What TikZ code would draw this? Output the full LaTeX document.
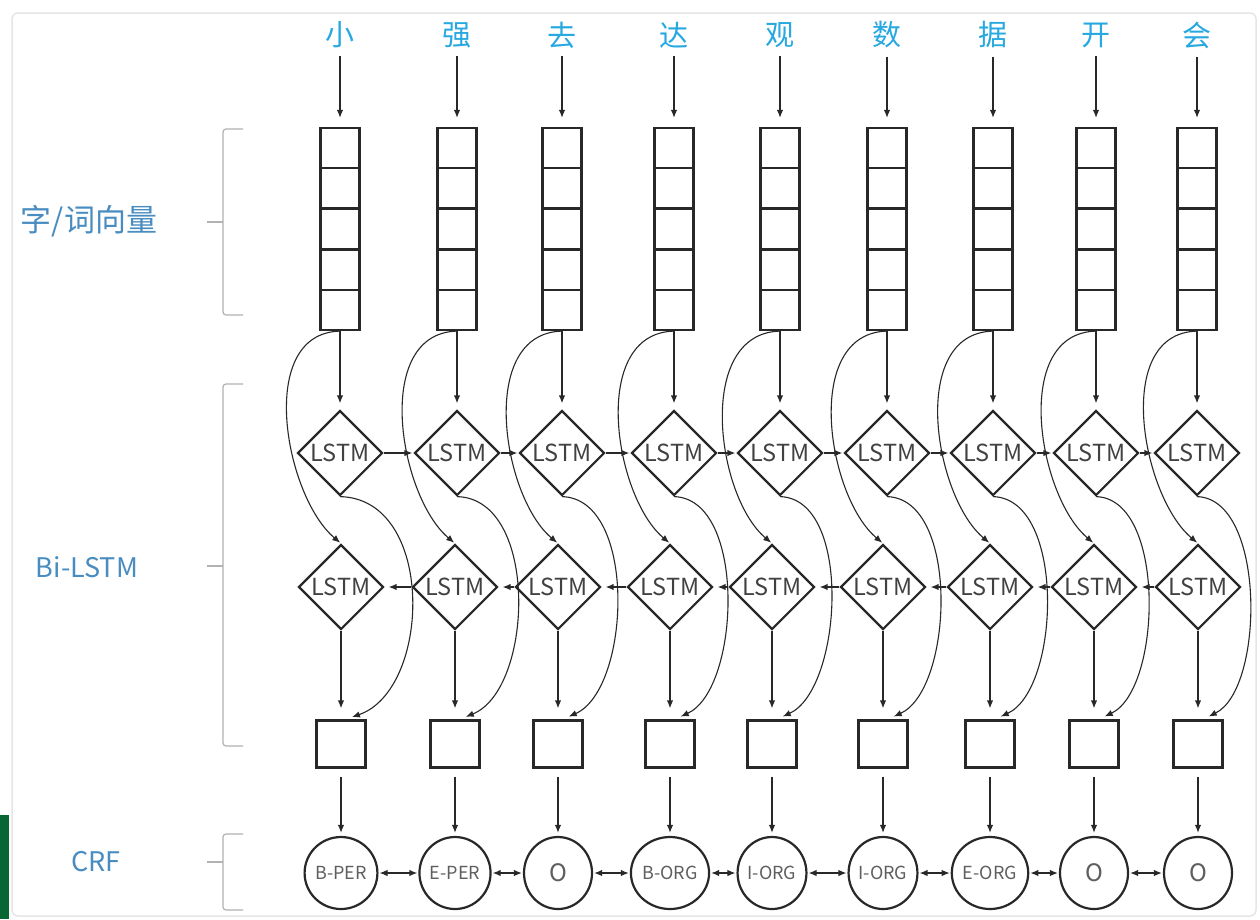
\documentclass[tikz,border=0pt]{standalone}
\usepackage{fontspec}
\setmainfont{Noto Sans CJK SC}
\usetikzlibrary{arrows.meta,shapes.geometric,calc}
\definecolor{topblue}{RGB}{38,168,224}
\definecolor{lblblue}{RGB}{72,140,192}
\definecolor{ink}{RGB}{40,40,40}
\definecolor{txtgray}{RGB}{65,65,65}
\definecolor{tagtxt}{RGB}{95,95,95}
\definecolor{brk}{RGB}{178,178,178}
\definecolor{framecol}{RGB}{230,230,230}
\definecolor{bargreen}{RGB}{6,102,52}
\tikzset{
  conn/.style={draw=ink, line width=1.3pt, ->},
  curvy/.style={draw=ink, line width=1.1pt, ->},
  vecbox/.style={rectangle, draw=ink, line width=2.2pt, minimum width=39pt, minimum height=202pt, inner sep=0pt},
  lstm/.style={diamond, draw=ink, line width=2.2pt, minimum width=85pt, minimum height=85pt, inner sep=0pt, text=txtgray, font=\fontsize{23.5}{23.5}\selectfont},
  outbox/.style={rectangle, draw=ink, line width=2.2pt, minimum width=49pt, minimum height=47pt, inner sep=0pt},
  tag/.style={ellipse, draw=ink, line width=2.2pt, minimum width=68pt, minimum height=72pt, inner sep=0pt, text=tagtxt},
  word/.style={text=topblue, inner sep=0pt, font=\fontsize{29}{29}\selectfont},
  layer/.style={text=lblblue, inner sep=0pt, font=\fontsize{27}{27}\selectfont},
  brace/.style={draw=brk, line width=1.2pt, rounded corners=3pt},
}
\begin{document}
\begin{tikzpicture}[x=1pt,y=-1pt,>={Latex[length=8pt,width=6.5pt]}]
\useasboundingbox (0,0) rectangle (1260,919);
\fill[white] (0,0) rectangle (1260,919);
\draw[framecol, line width=1.5pt, rounded corners=6pt] (12,13) rectangle (1256,916);
\fill[bargreen] (0,815) rectangle (9,919);

% layer labels and braces
\node[layer, font=\fontsize{31}{31}\selectfont] (lab1) at (89,221) {字/词向量};
\node[layer] (lab2) at (87,567) {Bi-LSTM};
\node[layer] (lab3) at (96,862) {CRF};
\draw[brace] (243,129) -- (223,129) -- (223,315) -- (243,315);
\draw[brace] (223,222) -- (207,222);
\draw[brace] (243,384) -- (223,384) -- (223,746) -- (243,746);
\draw[brace] (223,566) -- (207,566);
\draw[brace] (243,834) -- (223,834) -- (223,910) -- (243,910);
\draw[brace] (223,862) -- (207,862);

% columns: top x (words, vectors, forward LSTM) and bottom x (backward LSTM, outputs, tags)
\foreach \i/\x/\y/\ch/\tg/\fs in {1/340/341/小/B-PER/18, 2/457/455/强/E-PER/18, 3/562/558/去/O/24, 4/674/670/达/B-ORG/18, 5/780/772/观/I-ORG/18, 6/887/883/数/I-ORG/18, 7/993/990/据/E-ORG/18, 8/1096/1094/开/O/24, 9/1197/1198/会/O/24}{
  \node[word] (w\i) at (\x,35) {\ch};
  \node[vecbox] (v\i) at (\x,229) {};
  \foreach \k in {1,...,4}{
    \draw[ink, line width=2.2pt] ($(v\i.north west)!\k/5!(v\i.south west)$) -- ($(v\i.north east)!\k/5!(v\i.south east)$);
  }
  \node[lstm] (f\i) at (\x,453) {LSTM};
  \node[lstm] (b\i) at (\y,587) {LSTM};
  \node[outbox] (o\i) at (\y,744) {};
  \node[tag, font=\fontsize{\fs}{\fs}\selectfont] (c\i) at (\y,873) {\tg};
  \draw[conn, shorten <=8pt, shorten >=9pt] (w\i) -- (v\i);
  \draw[conn, shorten >=6pt] (v\i) -- (f\i);
  \draw[conn, shorten >=11pt] (b\i) -- (o\i);
  \draw[conn, shorten <=8pt, shorten >=3pt] (o\i) -- (c\i);
}

% curves
\foreach \i/\r in {1/72, 2/62, 3/57, 4/55, 5/55, 6/55, 7/55, 8/53, 9/52}{
  \draw[curvy, shorten >=1pt] (v\i.south) .. controls ($(v\i.south)+(-85,2)$) and ($(b\i.north)+(-56,-47)$) .. (b\i.north);
  \draw[curvy, shorten >=7pt] (f\i.south) .. controls ($(f\i.south)+(1.33*\r,2)$) and ($(o\i.80)+(1.2*\r,-30)$) .. (o\i.80);
}

% horizontal connections
\foreach \i/\j in {1/2,2/3,3/4,4/5,5/6,6/7,7/8,8/9}{
  \draw[conn, shorten >=1pt] (f\i.east) -- (f\j.west);
  \draw[conn, shorten >=4pt] (b\j.west) -- (b\i.east);
  \draw[conn, <->, shorten <=1pt, shorten >=1pt] (c\i.east) -- (c\j.west);
}
\end{tikzpicture}
\end{document}
